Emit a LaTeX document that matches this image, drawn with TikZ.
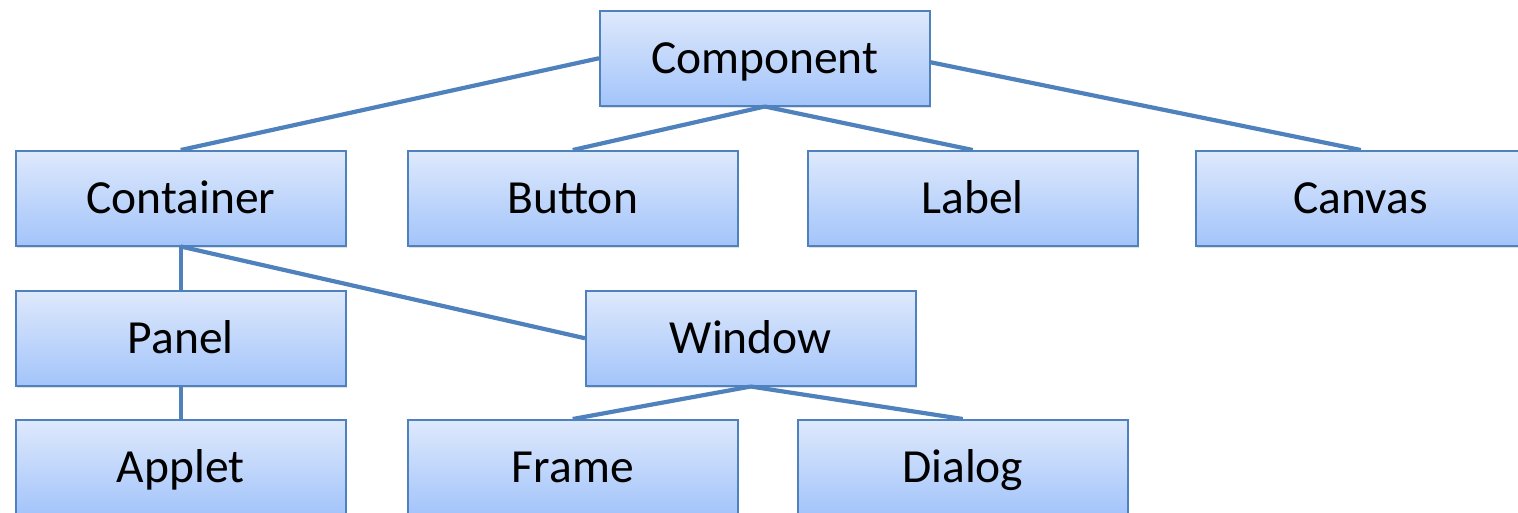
\documentclass[tikz,border=0pt]{standalone}
\usepackage{fontspec}
\setmainfont{Carlito}
\usetikzlibrary{shadows}
\definecolor{edgeblue}{RGB}{79,129,189}
\definecolor{topblue}{RGB}{222,233,252}
\definecolor{botblue}{RGB}{163,196,250}
\tikzset{
  cls/.style={draw=edgeblue, line width=1.5pt, top color=topblue, bottom color=botblue,
    minimum width=330pt, minimum height=95pt, inner sep=0pt, anchor=north west,
    text height=30pt, text depth=0pt,
    font=\fontsize{47.5}{56}\selectfont,
    drop shadow={opacity=0.25, shadow xshift=1.5pt, shadow yshift=-2.5pt}},
  link/.style={draw=edgeblue, line width=4.2pt}
}
\begin{document}
\begin{tikzpicture}[x=1pt,y=-1pt]
\useasboundingbox (0,0) rectangle (1518,512);
\clip (0,0) rectangle (1518,512);
\node[cls] (component) at (599,10) {Component};
\node[cls] (container) at (15,150) {Container};
\node[cls] (button) at (407,150) {Button};
\node[cls] (label) at (807,150) {Label};
\node[cls] (canvas) at (1195,150) {Canvas};
\node[cls] (panel) at (15,290) {Panel};
\node[cls] (window) at (585,290) {Window};
\node[cls] (applet) at (15,419) {Applet};
\node[cls] (frame) at (407,419) {Frame};
\node[cls] (dialog) at (797,419) {Dialog};
\draw[link] (component.west) -- (container.north);
\draw[link] (component.south) -- (button.north);
\draw[link] (component.south) -- (label.north);
\draw[link] ([yshift=-4pt]component.east) -- (canvas.north);
\draw[link] (container.south) -- (panel.north);
\draw[link] (container.south) -- (window.west);
\draw[link] (panel.south) -- (applet.north);
\draw[link] (window.south) -- (frame.north);
\draw[link] (window.south) -- (dialog.north);
\end{tikzpicture}
\end{document}
